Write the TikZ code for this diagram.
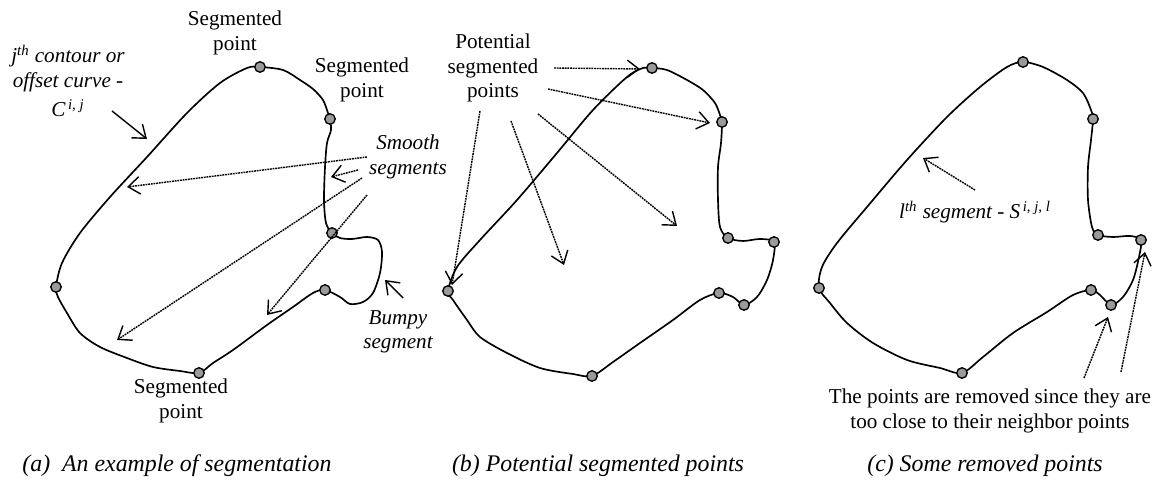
\documentclass[tikz,border=0pt]{standalone}
\usepackage{fontspec}
\setmainfont{Liberation Serif}
\usetikzlibrary{arrows.meta}
\definecolor{ptgray}{HTML}{9A9A9A}
\begin{document}
\begin{tikzpicture}[x=0.6pt,y=-0.6pt,
  curve/.style={line width=1pt, line join=round},
  pt/.style={circle, draw, fill=ptgray, line width=0.8pt, minimum size=6.3pt, inner sep=0pt},
  lbl/.style={font=\fontsize{12.7}{14.7}\selectfont, align=center, inner sep=0pt},
  ilbl/.style={font=\fontsize{12.7}{14.7}\selectfont\itshape, align=center, inner sep=0pt},
  captext/.style={font=\fontsize{14.3}{17}\selectfont\itshape, inner sep=0pt},
  solidarrow/.style={line width=0.85pt, -{Straight Barb[length=7pt,width=10.5pt]}},
  dotarrow/.style={solidarrow, dash pattern=on 1.1pt off 0.5pt}]
\useasboundingbox (0,0) rectangle (1158,481);

% ---------------- panel (a) ----------------
\draw[curve] plot[smooth cycle, tension=0.5] coordinates {
 (56,287) (62,263) (80,233) (110,197) (147,157) (187,113) (220,83) (247,68) (260,67)
 (283,70) (300,80) (313,89) (323,100) (328,113) (330,119)
 (331,130) (327,143) (325,167) (324,200) (326,223) (332,233)
 (340,238) (352,239) (367,237) (378,240) (382,252) (380,273) (373,293) (363,302) (350,304) (340,297) (325,290)
 (313,293) (293,307) (267,325) (233,350) (213,363) (199,373)
 (180,371) (153,367) (127,358) (100,347) (80,333) (67,313) (58,297)};
\node[pt] (a1) at (260,67) {};
\node[pt] (a2) at (330,119) {};
\node[pt] (a3) at (332,233) {};
\node[pt] (a4) at (325,290) {};
\node[pt] (a5) at (199,373) {};
\node[pt] (a6) at (56,287) {};

\node[lbl] (ta) at (235,33) {Segmented\\point};
\node[lbl] (ra) at (362,80) {Segmented\\point};
\node[lbl] (ba) at (181,401) {Segmented\\point};
\node[ilbl] (ca) at (68,81) {j\textsuperscript{th} contour or\\offset curve -\\[3pt]C\textsuperscript{\,i, j}};
\node[ilbl] (sa) at (408,157) {Smooth\\segments};
\node[ilbl] (bu) at (398,332) {Bumpy\\segment};

\coordinate (ca1) at (112,111); \coordinate (ca2) at (147,139);
\draw[solidarrow] (ca1) -- (ca2);
\coordinate (s1a) at (367,157); \coordinate (s1b) at (127,187);
\coordinate (s2a) at (358,170); \coordinate (s2b) at (331,177);
\coordinate (s3a) at (362,178); \coordinate (s3b) at (117,340);
\coordinate (s4a) at (367,195); \coordinate (s4b) at (267,315);
\draw[dotarrow] (s1a) -- (s1b);
\draw[dotarrow] (s2a) -- (s2b);
\draw[dotarrow] (s3a) -- (s3b);
\draw[dotarrow] (s4a) -- (s4b);
\coordinate (bua) at (403,298); \coordinate (bub) at (385,280);
\draw[solidarrow] (bua) -- (bub);

% ---------------- panel (b) ----------------
\draw[curve] plot[smooth cycle, tension=0.5] coordinates {
 (448,291) (457,267) (480,240) (517,200) (557,153) (593,110) (627,77) (643,68) (652,68)
 (667,70) (687,80) (703,90) (715,103) (720,115) (722,122)
 (721,143) (718,167) (718,200) (720,227) (728,238)
 (743,241) (760,239) (774,242)
 (773,260) (767,280) (757,297) (744,305)
 (733,297) (719,293)
 (700,300) (673,320) (640,343) (613,362) (592,376)
 (573,374) (540,368) (507,353) (480,337) (467,320) (453,300)};
\node[pt] (b1) at (652,68) {};
\node[pt] (b2) at (722,122) {};
\node[pt] (b3) at (728,238) {};
\node[pt] (b4) at (774,242) {};
\node[pt] (b5) at (744,305) {};
\node[pt] (b6) at (719,293) {};
\node[pt] (b7) at (592,376) {};
\node[pt] (b8) at (448,291) {};

\node[lbl] (pb) at (493,68) {Potential\\segmented\\points};
\coordinate (p1a) at (554,68);  \coordinate (p1b) at (640,69);
\coordinate (p2a) at (548,89);  \coordinate (p2b) at (710,123);
\coordinate (p3a) at (538,114); \coordinate (p3b) at (677,226);
\coordinate (p4a) at (511,121); \coordinate (p4b) at (564,265);
\coordinate (p5a) at (480,111); \coordinate (p5b) at (452,285);
\draw[dotarrow] (p1a) -- (p1b);
\draw[dotarrow] (p2a) -- (p2b);
\draw[dotarrow] (p3a) -- (p3b);
\draw[dotarrow] (p4a) -- (p4b);
\draw[dotarrow] (p5a) -- (p5b);

% ---------------- panel (c) ----------------
\draw[curve] plot[smooth cycle, tension=0.5] coordinates {
 (819,288) (822,267) (837,243) (867,207) (907,160) (947,117) (980,87) (1007,67) (1023,62)
 (1043,67) (1067,80) (1083,93) (1091,110) (1093,119)
 (1091,140) (1088,167) (1088,200) (1092,227) (1098,235)
 (1113,237) (1130,236) (1141,240)
 (1139,257) (1133,280) (1123,297) (1111,305)
 (1100,295) (1091,290)
 (1073,295) (1047,312) (1013,333) (983,357) (962,373)
 (940,368) (907,360) (873,343) (847,323) (830,303)};
\node[pt] (c1) at (1023,62) {};
\node[pt] (c2) at (1093,119) {};
\node[pt] (c3) at (1098,235) {};
\node[pt] (c4) at (1141,240) {};
\node[pt] (c5) at (1111,305) {};
\node[pt] (c6) at (1091,290) {};
\node[pt] (c7) at (962,373) {};
\node[pt] (c8) at (819,288) {};

\node[ilbl] (lc) at (975,212) {l\textsuperscript{th} segment - S\textsuperscript{\,i, j, l}};
\coordinate (l1a) at (975,190); \coordinate (l1b) at (923,158);
\draw[dotarrow] (l1a) -- (l1b);
\node[lbl] (rc) at (990,411) {The points are removed since they are\\too close to their neighbor points};
\coordinate (r1a) at (1084,378); \coordinate (r1b) at (1108,317);
\coordinate (r2a) at (1121,372); \coordinate (r2b) at (1145,252);
\draw[dotarrow] (r1a) -- (r1b);
\draw[dotarrow] (r2a) -- (r2b);

% ---------------- captions ----------------
\node[captext] (capa) at (177,466) {(a)\ \ An example of segmentation};
\node[captext] (capb) at (598,466) {(b) Potential segmented points};
\node[captext] (capc) at (985,466) {(c) Some removed points};
\end{tikzpicture}
\end{document}
